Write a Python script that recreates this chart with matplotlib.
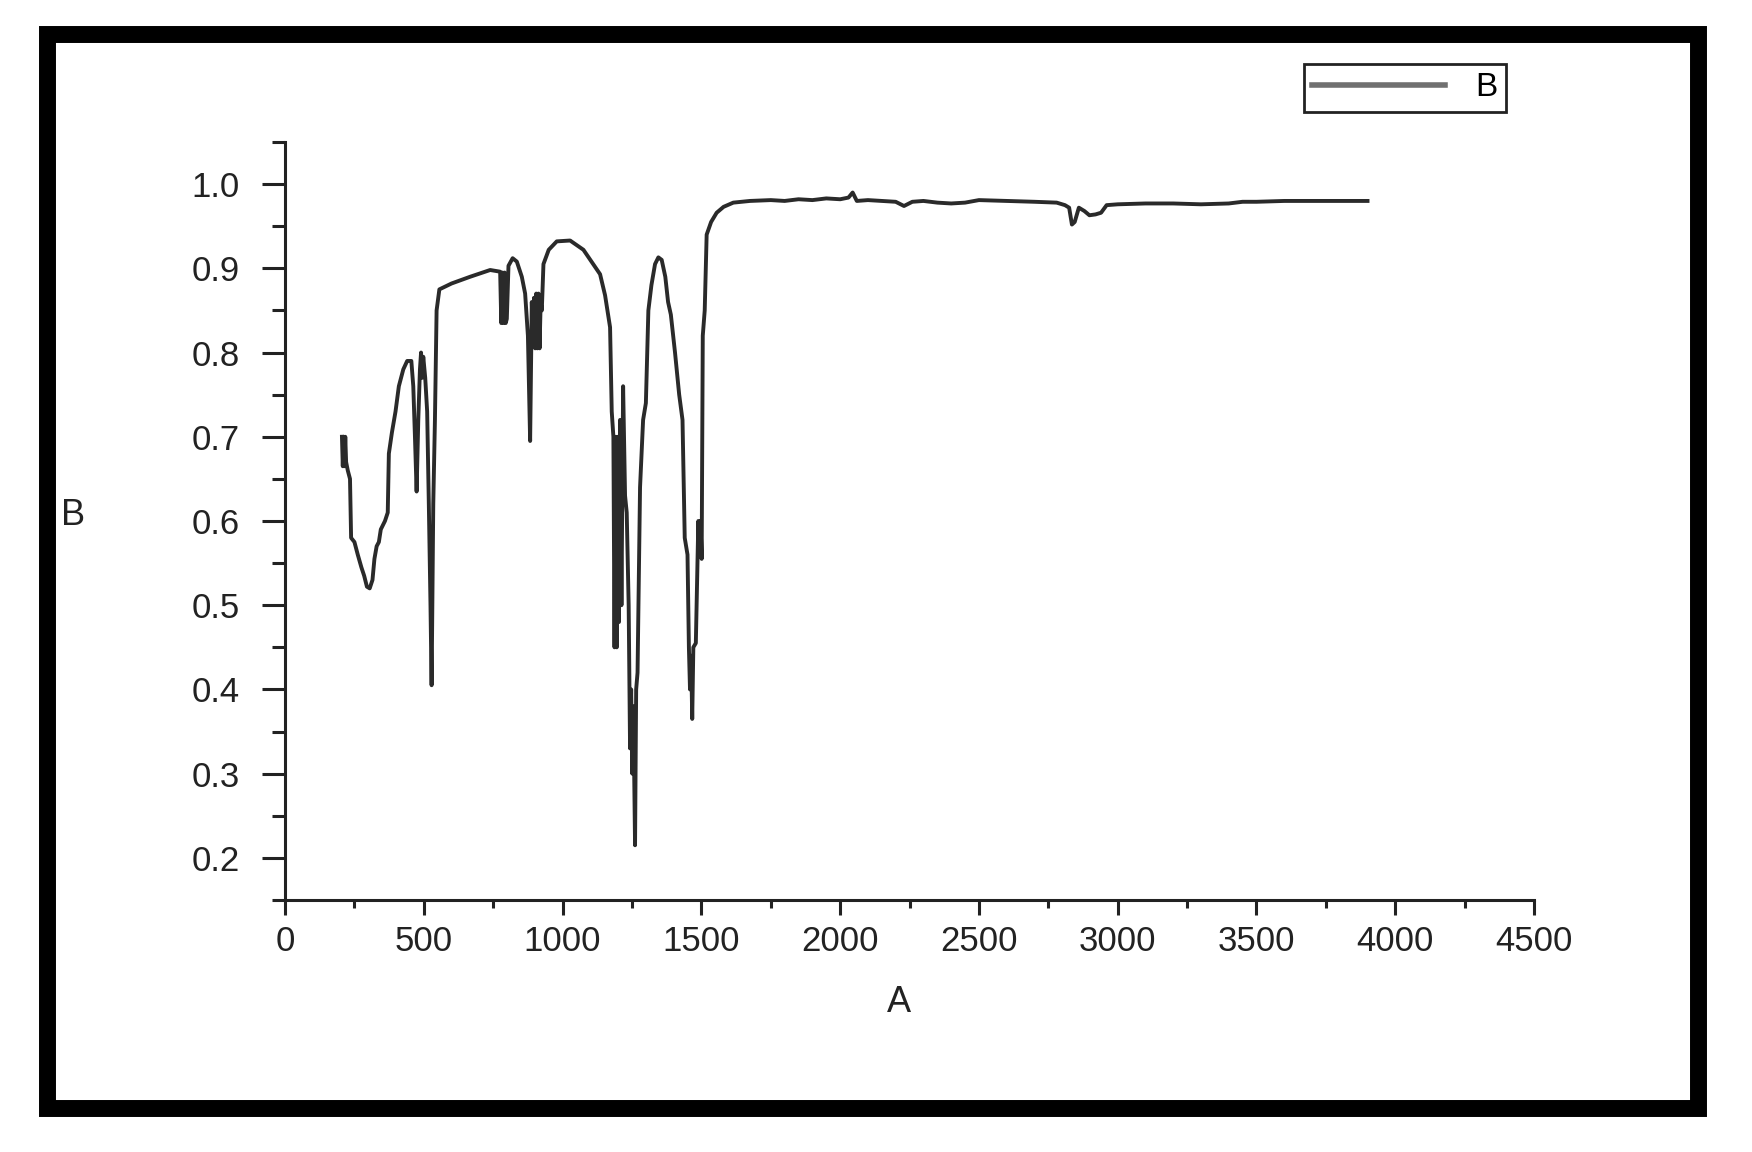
import matplotlib
matplotlib.use("Agg")
import matplotlib.pyplot as plt
from matplotlib.patches import Rectangle
from matplotlib.ticker import MultipleLocator

plt.rcParams["font.family"] = ["Liberation Sans", "DejaVu Sans"]

# spectrum (A = wavenumber, B = transmittance)
A = [205, 208, 211, 214, 217, 220, 226, 234, 238, 250, 262, 275, 285, 295, 305,
     315, 322, 330, 338, 345, 360, 370, 374, 385, 398, 410, 426, 440, 455, 462,
     468, 474, 480, 486, 490, 494, 498, 505, 512, 518, 524, 528, 534, 540, 546,
     556, 600, 667, 739, 775, 779, 783, 787, 791, 795, 799, 805, 820, 835, 853,
     865, 875, 883, 889, 893, 897, 901, 905, 909, 913, 917, 921, 925, 931, 950,
     979, 1027, 1075, 1110, 1135, 1153, 1171, 1177, 1183, 1187, 1191, 1195, 1199,
     1203, 1207, 1212, 1218, 1225, 1231, 1238, 1243, 1247, 1251, 1255, 1261, 1265,
     1270, 1279, 1290, 1300, 1309, 1320, 1333, 1345, 1357, 1370, 1380, 1390, 1405,
     1420, 1432, 1440, 1450, 1455, 1459, 1463, 1467, 1471, 1480, 1489, 1493, 1497,
     1501, 1505, 1512, 1519, 1535, 1555, 1580, 1615, 1675, 1750, 1800, 1850, 1900,
     1950, 2000, 2030, 2045, 2060, 2100, 2150, 2200, 2230, 2260, 2300, 2350, 2400,
     2450, 2500, 2600, 2700, 2780, 2810, 2825, 2835, 2845, 2860, 2880, 2898, 2920,
     2940, 2960, 3000, 3100, 3200, 3300, 3400, 3450, 3500, 3600, 3700, 3800, 3900]
B = [0.70, 0.665, 0.70, 0.665, 0.70, 0.67, 0.66, 0.65, 0.58, 0.575, 0.56, 0.545,
     0.535, 0.522, 0.52, 0.53, 0.555, 0.57, 0.575, 0.59, 0.60, 0.61, 0.68, 0.705,
     0.73, 0.76, 0.78, 0.79, 0.79, 0.76, 0.70, 0.635, 0.72, 0.78, 0.80, 0.77, 0.795,
     0.77, 0.73, 0.62, 0.50, 0.405, 0.62, 0.72, 0.85, 0.875, 0.882, 0.89, 0.898,
     0.896, 0.835, 0.895, 0.835, 0.895, 0.835, 0.84, 0.903, 0.912, 0.908, 0.89,
     0.87, 0.82, 0.695, 0.86, 0.81, 0.865, 0.805, 0.87, 0.805, 0.87, 0.805, 0.86,
     0.85, 0.905, 0.922, 0.932, 0.933, 0.922, 0.905, 0.893, 0.868, 0.83, 0.73, 0.70,
     0.45, 0.70, 0.45, 0.70, 0.48, 0.72, 0.50, 0.76, 0.63, 0.61, 0.50, 0.33, 0.40,
     0.30, 0.38, 0.215, 0.40, 0.42, 0.64, 0.72, 0.74, 0.85, 0.88, 0.905, 0.913,
     0.91, 0.89, 0.86, 0.845, 0.80, 0.75, 0.72, 0.58, 0.56, 0.45, 0.40, 0.44,
     0.365, 0.45, 0.455, 0.60, 0.56, 0.60, 0.555, 0.82, 0.85, 0.94, 0.955, 0.966,
     0.973, 0.978, 0.98, 0.981, 0.98, 0.982, 0.981, 0.983, 0.982, 0.984, 0.99,
     0.98, 0.981, 0.98, 0.979, 0.974, 0.979, 0.98, 0.978, 0.977, 0.978, 0.981,
     0.98, 0.979, 0.978, 0.975, 0.972, 0.952, 0.955, 0.972, 0.968, 0.963, 0.964,
     0.966, 0.975, 0.976, 0.977, 0.977, 0.976, 0.977, 0.979, 0.979, 0.98, 0.98,
     0.98, 0.98]

fig = plt.figure(figsize=(17.52, 11.52), dpi=100)
ax = fig.add_axes([0.1627, 0.21875, 0.7129, 0.658])

ax.plot(A, B, color="#2a2a2a", linewidth=2.8, label="B")

ax.set_xlim(0, 4500)
ax.set_ylim(0.15, 1.05)
ax.xaxis.set_major_locator(MultipleLocator(500))
ax.xaxis.set_minor_locator(MultipleLocator(250))
ax.yaxis.set_minor_locator(MultipleLocator(0.05))
ax.set_yticks([0.2, 0.3, 0.4, 0.5, 0.6, 0.7, 0.8, 0.9, 1.0])
ax.set_yticklabels(["0.2", "0.3", "0.4", "0.5", "0.6", "0.7", "0.8", "0.9", "1.0"])

for side in ["top", "right"]:
    ax.spines[side].set_visible(False)
for side in ["left", "bottom"]:
    ax.spines[side].set_linewidth(2.2)
    ax.spines[side].set_color("#222222")

ax.tick_params(axis="x", which="major", direction="out", length=11, width=2.2,
               pad=7, labelsize=25, colors="#222222")
ax.tick_params(axis="x", which="minor", direction="out", length=6, width=2.2,
               colors="#222222")
ax.tick_params(axis="y", which="major", direction="out", length=16.5, width=2.2,
               pad=16, labelsize=25, colors="#222222")
ax.tick_params(axis="y", which="minor", direction="out", length=9.5, width=2.2,
               colors="#222222")

ax.set_xlabel("A", fontsize=26, color="#222222")
ax.set_ylabel("B", fontsize=26, color="#222222", rotation=0)
ax.xaxis.set_label_coords(0.4916, -0.1346)
ax.yaxis.set_label_coords(-0.170, 0.507)
ax.xaxis.label.set_va("center")
ax.yaxis.label.set_va("center")
ax.yaxis.label.set_ha("center")

leg = ax.legend(loc="upper right", bbox_to_anchor=(1506 / 1752, 1 - 64 / 1152),
                bbox_transform=fig.transFigure, fontsize=24, fancybox=False,
                edgecolor="#222222", framealpha=1, handlelength=4.0,
                handletextpad=0.9, borderpad=0.25, borderaxespad=0)
leg.get_frame().set_linewidth(2)
leg.get_lines()[0].set_color("#707070")
leg.get_lines()[0].set_linewidth(4)

# thick black frame round the whole picture
fig.add_artist(Rectangle((0.0271, 0.0378), 0.9689 - 0.0271, 0.9709 - 0.0378,
                         transform=fig.transFigure, fill=False, edgecolor="black",
                         linewidth=12.2, joinstyle="miter"))

fig.savefig("out.png", dpi=100)
